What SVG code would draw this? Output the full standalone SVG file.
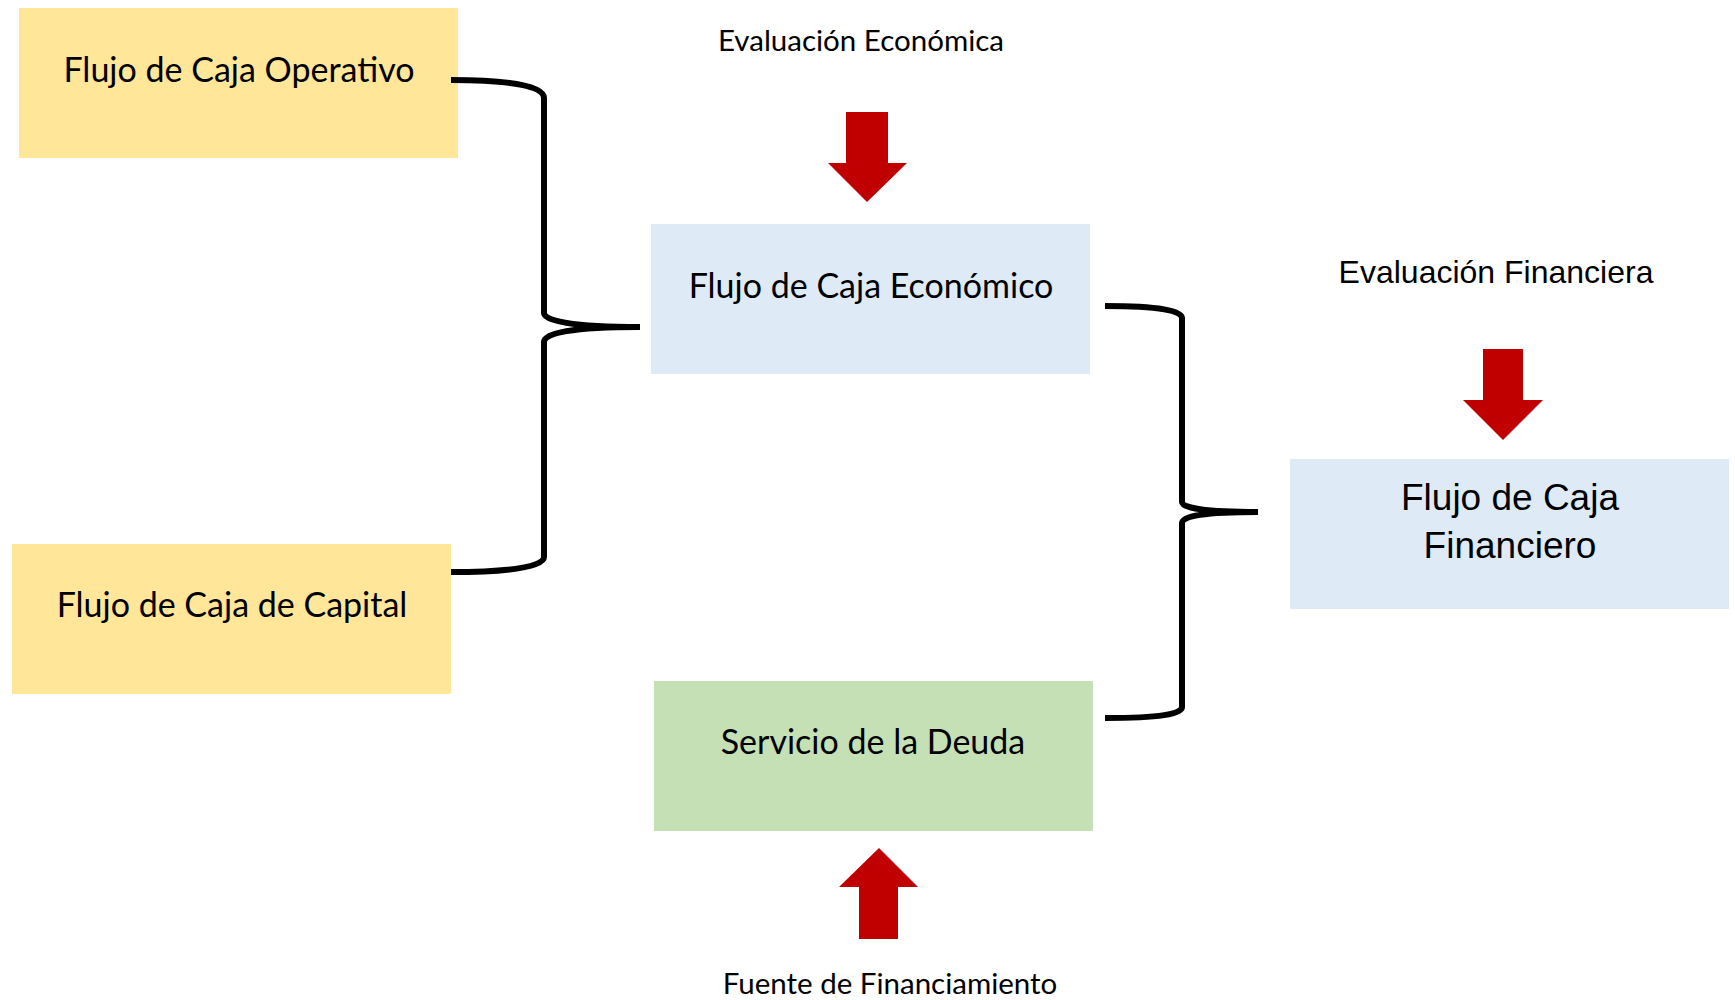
<svg xmlns="http://www.w3.org/2000/svg" width="1735" height="1000" viewBox="0 0 1735 1000">
<style>
.box-y{fill:#FFE699}
.box-b{fill:#DEEBF7}
.box-g{fill:#C5E0B4}
.t{font-family:Lato,"Open Sans","Liberation Sans",sans-serif;fill:#000;text-anchor:middle}
.big{font-size:34px}
.small{font-size:29.5px}
.arial{font-family:"Liberation Sans",Arial,sans-serif;fill:#000;text-anchor:middle}
.brace{fill:none;stroke:#000;stroke-width:6}
.arrow{fill:#C00000}
</style>
<rect width="1735" height="1000" fill="#fff"/>
<g id="node-operativo">
<rect class="box-y" x="19" y="8" width="439" height="150"/>
<text class="t big" x="239" y="82">Flujo de Caja Operativo</text>
</g>
<g id="node-capital">
<rect class="box-y" x="12" y="544" width="439" height="150"/>
<text class="t big" x="232" y="617">Flujo de Caja de Capital</text>
</g>
<g id="node-economico">
<rect class="box-b" x="651" y="224" width="439" height="150"/>
<text class="t big" x="871" y="298">Flujo de Caja Económico</text>
</g>
<g id="node-deuda">
<rect class="box-g" x="654" y="681" width="439" height="150"/>
<text class="t big" x="873" y="754">Servicio de la Deuda</text>
</g>
<g id="node-financiero">
<rect class="box-b" x="1290" y="459" width="439" height="150"/>
<text class="arial" font-size="37" x="1510" y="510">Flujo de Caja</text>
<text class="arial" font-size="37" x="1510" y="558">Financiero</text>
</g>
<g id="label-eval-economica">
<text class="t small" x="861" y="51">Evaluación Económica</text>
<polygon class="arrow" points="846,112 888,112 888,163 907,163 867,202 828,163 846,163"/>
</g>
<g id="label-eval-financiera">
<text class="arial" font-size="32" x="1496" y="283">Evaluación Financiera</text>
<polygon class="arrow" points="1483,349 1523,349 1523,400 1543,400 1503,440 1463,400 1483,400"/>
</g>
<g id="label-fuente">
<text class="t small" x="890" y="994">Fuente de Financiamiento</text>
<polygon class="arrow" points="879,848 918,887 898,887 898,939 859,939 859,887 839,887"/>
</g>
<g id="connectors">
<path class="brace" d="M451,80 C515,80 544,87 544,98 L544,313 C544,321 572,327 640,327 C572,327 544,333 544,342 L544,557 C544,566 515,572 451,572"/>
<path class="brace" d="M1105,306 C1160,306 1182,311 1182,318 L1182,502 C1182,508 1205,512 1258,512 C1205,512 1182,516 1182,523 L1182,707 C1182,714 1160,718 1105,718"/>
</g>
</svg>
